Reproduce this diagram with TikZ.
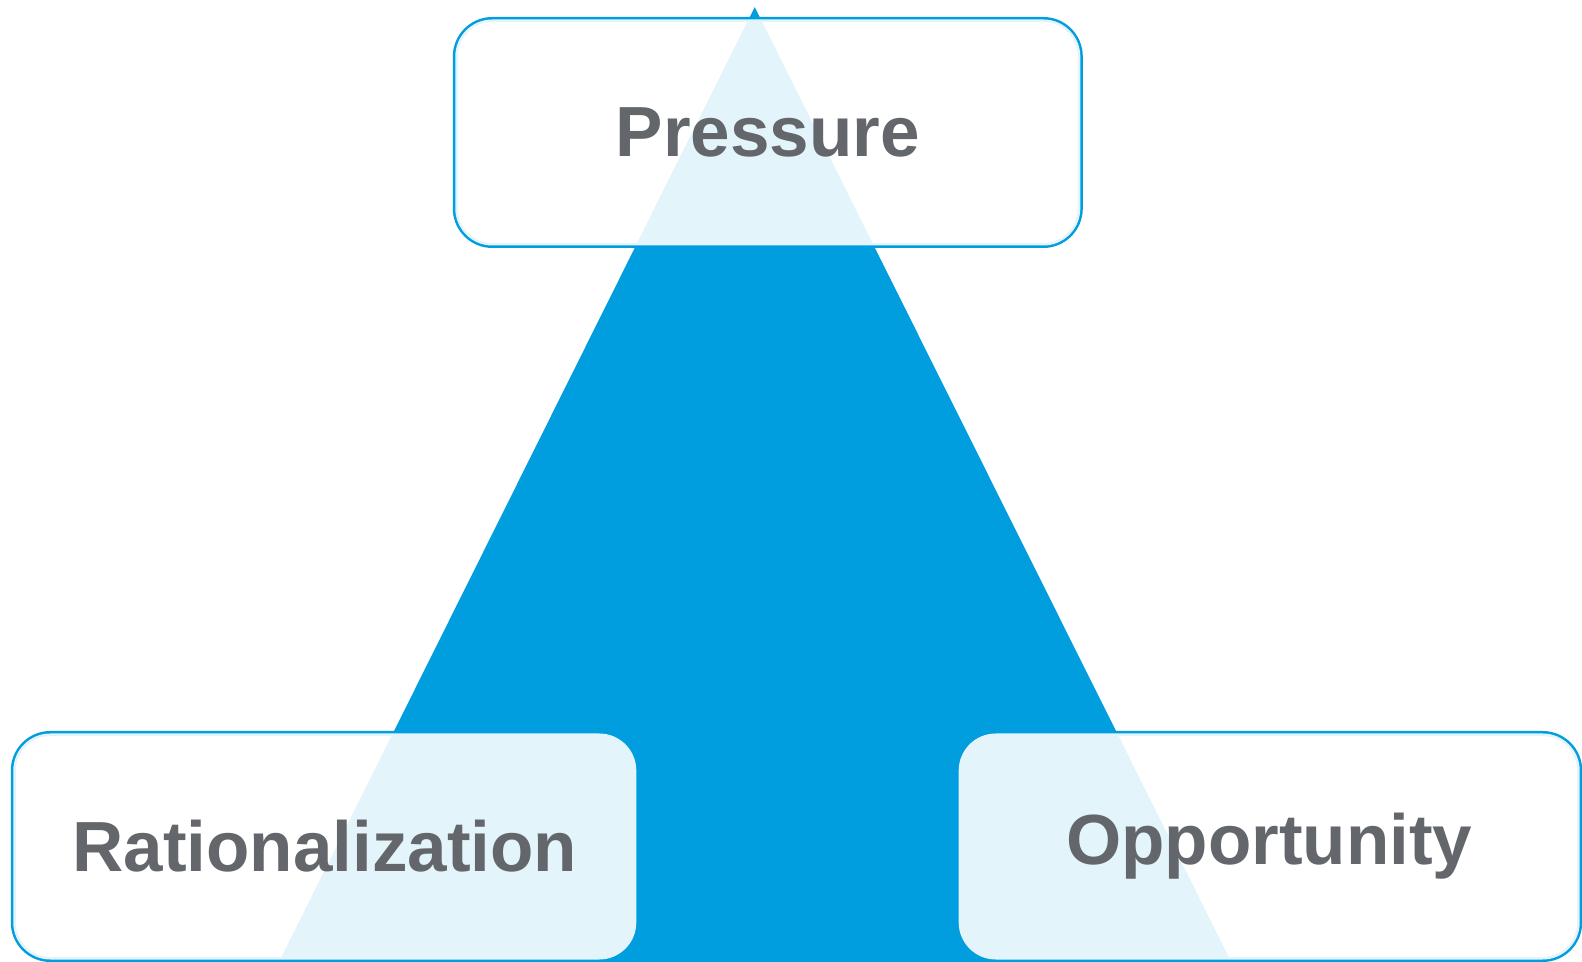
\documentclass[tikz,border=0pt]{standalone}
\usepackage{fontspec}
\setmainfont{Liberation Sans}
\usepackage{tikz}
\usetikzlibrary{calc}

\definecolor{triblue}{RGB}{0,157,223}
\definecolor{labelgray}{RGB}{99,102,106}

\tikzset{
    boxframe/.style={draw=triblue, line width=5pt, rounded corners=37pt,
        minimum width=#1, minimum height=226pt, inner sep=0pt},
    boxfill/.style={fill=white, fill opacity=0.89, text opacity=1,
        rounded corners=37pt, minimum width=#1, minimum height=226pt,
        inner sep=0pt, text=labelgray,
        font=\fontsize{71}{78}\selectfont\bfseries}
}

\begin{document}
\begin{tikzpicture}[x=1pt, y=1pt]
    \useasboundingbox (0,0) rectangle (1582,961);

    \coordinate (P) at (767.8,828.5);
    \coordinate (R) at (324.8,114.5);
    \coordinate (O) at (1269.2,114.5);
    \coordinate (T) at (754.7,953.9);
    \coordinate (BL) at (277.5,-4);
    \coordinate (BR) at (1232.8,-4);

    % Box outlines
    \node[boxframe=625pt] (pframe) at (P) {};
    \node[boxframe=623pt] (rframe) at (R) {};
    \node[boxframe=621pt] (oframe) at (O) {};

    % Triangle
    \fill[triblue] (T) -- (BL) -- (BR) -- cycle;

    % Box faces with labels
    \node[boxfill=625pt] (pressure) at (P) {Pressure};
    \node[boxfill=623pt] (rational) at (R) {Rationalization};
    \node[boxfill=621pt] (opport) at (O) {Opportunity};
\end{tikzpicture}
\end{document}
